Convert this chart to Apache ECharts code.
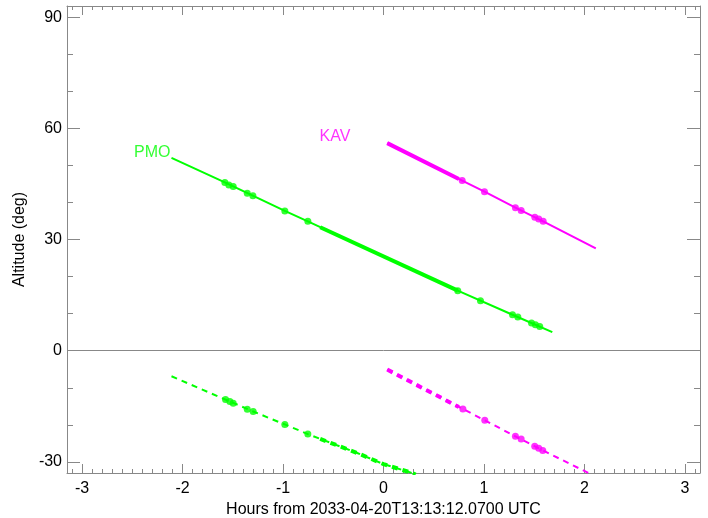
<!DOCTYPE html>
<html>
<head>
<meta charset="utf-8">
<script src="https://cdn.jsdelivr.net/npm/echarts@6/dist/echarts.min.js"></script>
<style>html,body{margin:0;padding:0;background:#fff}#c{width:708px;height:518px}</style>
</head>
<body>
<div id="c"></div>
<script>
// ---- tick labels ----
const xMajor = [-3, -2, -1, 0, 1, 2, 3];
const yMajor = [-30, 0, 30, 60, 90];
const yMinor = [-20, -10, 10, 20, 40, 50, 70, 80];
const xMinor = [];
for (let i = -31; i <= 31; i++) { if (i % 10 !== 0) xMinor.push(i / 10); }

// ---- PMO (green) ----
const pmoAltLine = [[-2.11, 52.0], [-1.579, 45.4], [-0.982, 37.7], [-0.753, 34.9], [0.739, 16.2], [1.284, 9.7], [1.68, 5.0]];
const pmoAltThick = [[-0.63, 33.3], [0.74, 16.2]];
const pmoAltPtsX = [-1.579, -1.539, -1.496, -1.356, -1.300, -0.982, -0.753, 0.739, 0.965, 1.284, 1.337, 1.473, 1.512, 1.555];
const pmoAltPtsY = [45.4, 44.7, 44.3, 42.5, 41.8, 37.7, 34.9, 16.2, 13.5, 9.7, 9.1, 7.5, 7.0, 6.5];
const pmoLowLine = [[-2.11, -6.9], [-1.572, -13.2], [-1.297, -16.4], [-0.982, -19.9], [-0.753, -22.5], [-0.262, -27.6], [0.0, -30.6], [0.285, -33.0], [0.32, -33.4]];
const pmoLowThick = [[-0.63, -23.8], [-0.262, -27.6], [0.0, -30.6], [0.285, -33.0], [0.32, -33.4]];
const pmoLowPtsX = [-1.572, -1.529, -1.496, -1.356, -1.297, -0.982, -0.753];
const pmoLowPtsY = [-13.2, -13.7, -14.2, -15.8, -16.4, -19.9, -22.5];

// ---- KAV (magenta) ----
const kavAltLine = [[0.037, 56.0], [0.783, 45.9], [1.005, 42.9], [1.313, 38.6], [1.589, 34.9], [2.113, 27.6]];
const kavAltThick = [[0.037, 56.0], [0.75, 46.3]];
const kavAltPtsX = [0.783, 1.005, 1.313, 1.370, 1.506, 1.545, 1.589];
const kavAltPtsY = [45.9, 42.9, 38.6, 37.8, 36.0, 35.5, 34.9];
const kavLowLine = [[0.037, -5.1], [0.79, -15.7], [1.008, -18.8], [1.313, -23.1], [1.585, -26.9], [2.04, -33.0], [2.07, -33.4]];
const kavLowThick = [[0.037, -5.1], [0.75, -15.2]];
const kavLowPtsX = [0.79, 1.008, 1.313, 1.370, 1.505, 1.545, 1.585];
const kavLowPtsY = [-15.7, -18.8, -23.1, -23.8, -25.8, -26.3, -26.9];

// ---- labels ----
const siteNames = ['PMO', 'KAV'];
const siteLabelPos = [[-2.12, 53.4], [-0.33, 57.8]];

const GREEN = '#00ff00', MAGENTA = '#ff00ff', AXC = '#888888';
const FONT = 'Liberation Sans, Arial, Helvetica, sans-serif';
const XMIN = -3.15, XMAX = 3.15, YMIN = -33, YMAX = 93;

const zip = (xs, ys) => xs.map((x, i) => [x, ys[i]]);

function xAx(pos, ticks, len, major, labels) {
  return {
    type: 'value', position: pos, min: XMIN, max: XMAX,
    axisLine: { show: major, onZero: false, lineStyle: { color: AXC, width: 1 } },
    axisTick: { show: true, inside: true, length: len, customValues: ticks, lineStyle: { color: AXC, width: 1 } },
    axisLabel: labels ? { show: true, customValues: ticks, fontSize: 16, color: '#000', margin: 8, fontFamily: FONT } : { show: false },
    splitLine: { show: false }
  };
}
function yAx(pos, ticks, len, major, labels) {
  return {
    type: 'value', position: pos, min: YMIN, max: YMAX,
    axisLine: { show: major, onZero: false, lineStyle: { color: AXC, width: 1 } },
    axisTick: { show: true, inside: true, length: len, customValues: ticks, lineStyle: { color: AXC, width: 1 } },
    axisLabel: labels ? { show: true, customValues: ticks, fontSize: 16, color: '#000', margin: 5, fontFamily: FONT } : { show: false },
    splitLine: { show: false }
  };
}

const xb = xAx('bottom', xMajor, 9, true, true);
xb.name = 'Hours from 2033-04-20T13:13:12.0700 UTC';
xb.nameLocation = 'middle';
xb.nameGap = 24;
xb.nameTextStyle = { fontSize: 16, color: '#000', fontFamily: FONT };
const yl = yAx('left', yMajor, 13, true, true);
yl.name = 'Altitude (deg)';
yl.nameLocation = 'middle';
yl.nameGap = 36;
yl.nameTextStyle = { fontSize: 16, color: '#000', fontFamily: FONT };

function lineS(data, color, width, dashed) {
  return {
    type: 'line', data: data, symbol: 'none', showSymbol: false, clip: true,
    lineStyle: { color: color, width: width, type: dashed ? [6, 5] : 'solid' },
    silent: true, z: 2
  };
}
function dotS(data, color) {
  return { type: 'scatter', data: data, symbol: 'circle', symbolSize: 7, itemStyle: { color: color }, silent: true, z: 3 };
}

const series = [
  Object.assign(lineS(pmoAltLine, GREEN, 2, false), {
    markLine: { silent: true, symbol: 'none', label: { show: false }, lineStyle: { color: AXC, width: 1, type: 'solid' }, data: [{ yAxis: 0 }] }
  }),
  lineS(pmoAltThick, GREEN, 4, false),
  dotS(zip(pmoAltPtsX, pmoAltPtsY), GREEN),
  lineS(pmoLowLine, GREEN, 2, true),
  lineS(pmoLowThick, GREEN, 4, true),
  dotS(zip(pmoLowPtsX, pmoLowPtsY), GREEN),
  lineS(kavAltLine, MAGENTA, 2, false),
  lineS(kavAltThick, MAGENTA, 4, false),
  dotS(zip(kavAltPtsX, kavAltPtsY), MAGENTA),
  lineS(kavLowLine, MAGENTA, 2, true),
  lineS(kavLowThick, MAGENTA, 4, true),
  dotS(zip(kavLowPtsX, kavLowPtsY), MAGENTA)
];
siteNames.forEach((n, i) => {
  series.push({
    type: 'scatter', data: [siteLabelPos[i]], symbolSize: 0, silent: true,
    itemStyle: { color: 'rgba(0,0,0,0)' },
    label: { show: true, formatter: n, position: 'left', distance: 0, fontSize: 16, fontFamily: FONT, color: i === 0 ? GREEN : MAGENTA, verticalAlign: 'middle' }
  });
});

const chart = echarts.init(document.getElementById('c'));
chart.setOption({
  animation: false,
  backgroundColor: '#fff',
  grid: { left: 67, right: 8, top: 6, bottom: 45, containLabel: false, outerBoundsMode: 'none' },
  xAxis: [xb, xAx('bottom', xMinor, 4, false, false), xAx('top', xMajor, 9, true, false), xAx('top', xMinor, 4, false, false)],
  yAxis: [yl, yAx('left', yMinor, 6, false, false), yAx('right', yMajor, 13, true, false), yAx('right', yMinor, 6, false, false)],
  series: series
});
</script>
</body>
</html>
